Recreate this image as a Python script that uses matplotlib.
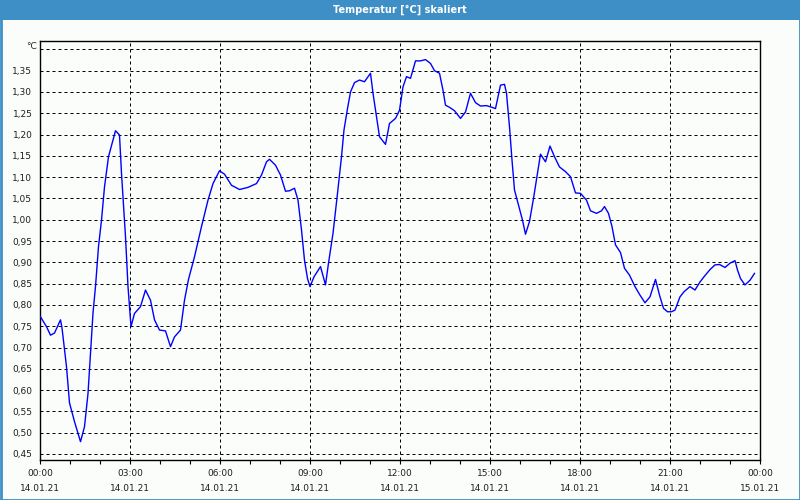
import matplotlib
matplotlib.use("Agg")
import matplotlib.pyplot as plt
from matplotlib.patches import Rectangle
from matplotlib.ticker import MultipleLocator, FixedLocator

# Messwerte: Minuten seit 14.01.21 00:00 und Temperatur (skaliert)
minutes = [1, 13, 21, 29, 41, 44, 53, 59, 69, 81, 89, 96, 101, 106, 111, 117, 123, 129,
           137, 144, 151, 159, 163, 171, 176, 179, 182, 189, 201, 211, 221, 229, 239, 251,
           261, 269, 281, 289, 297, 309, 323, 336, 346, 359, 369, 383, 399, 416, 433, 443,
           453, 459, 471, 481, 491, 499, 509, 516, 523, 529, 535, 540, 548, 561, 571, 577,
           586, 595, 603, 608, 615, 621, 629, 639, 649, 655, 661, 666, 673, 679, 691, 699,
           711, 719, 726, 733, 741, 751, 761, 771, 781, 789, 799, 806, 811, 819, 829, 841,
           851, 861, 871, 881, 893, 904, 911, 916, 921, 929, 933, 939, 944, 949, 957, 965,
           971, 979, 987, 996, 1001, 1011, 1020, 1029, 1039, 1051, 1061, 1071, 1081, 1093,
           1101, 1113, 1123, 1129, 1137, 1144, 1151, 1161, 1169, 1179, 1190, 1200, 1210,
           1220, 1231, 1239, 1247, 1255, 1263, 1270, 1280, 1288, 1300, 1310, 1320, 1330,
           1340, 1350, 1359, 1370, 1380, 1390, 1395, 1401, 1410, 1420, 1429]
temps = [0.772, 0.749, 0.729, 0.734, 0.765, 0.746, 0.655, 0.570, 0.526, 0.479, 0.514, 0.592,
         0.687, 0.781, 0.843, 0.937, 0.999, 1.077, 1.148, 1.179, 1.209, 1.199, 1.109, 0.960,
         0.843, 0.796, 0.749, 0.780, 0.796, 0.835, 0.811, 0.765, 0.741, 0.739, 0.702, 0.725,
         0.741, 0.811, 0.860, 0.913, 0.984, 1.046, 1.085, 1.115, 1.107, 1.081, 1.071, 1.076,
         1.085, 1.105, 1.136, 1.142, 1.128, 1.105, 1.067, 1.068, 1.074, 1.046, 0.976, 0.905,
         0.862, 0.843, 0.866, 0.890, 0.847, 0.898, 0.968, 1.062, 1.148, 1.211, 1.261, 1.300,
         1.322, 1.328, 1.324, 1.334, 1.344, 1.297, 1.242, 1.195, 1.177, 1.226, 1.238, 1.257,
         1.312, 1.336, 1.332, 1.373, 1.373, 1.376, 1.367, 1.350, 1.344, 1.304, 1.269, 1.264,
         1.256, 1.238, 1.253, 1.297, 1.275, 1.267, 1.268, 1.264, 1.261, 1.289, 1.316, 1.318,
         1.297, 1.218, 1.140, 1.070, 1.035, 0.999, 0.966, 0.996, 1.050, 1.117, 1.154, 1.136,
         1.173, 1.148, 1.124, 1.113, 1.101, 1.063, 1.062, 1.046, 1.021, 1.015, 1.021, 1.031,
         1.015, 0.984, 0.941, 0.923, 0.886, 0.870, 0.843, 0.823, 0.805, 0.819, 0.860, 0.823,
         0.792, 0.784, 0.784, 0.788, 0.819, 0.831, 0.843, 0.835, 0.854, 0.869, 0.883, 0.894,
         0.895, 0.888, 0.898, 0.904, 0.882, 0.862, 0.847, 0.858, 0.874]

x_ticks = [0, 180, 360, 540, 720, 900, 1080, 1260, 1440]
time_labels = ["00:00", "03:00", "06:00", "09:00", "12:00", "15:00", "18:00", "21:00", "00:00"]
date_labels = ["14.01.21"] * 8 + ["15.01.21"]
y_ticks = [0.45 + 0.05 * i for i in range(20)]

bg = "#fbfdfb"
bar_blue = "#3d8fc6"
txt = "#1e1e1e"

fig = plt.figure(figsize=(8, 5), dpi=100, facecolor=bg)

# Titelleiste
fig.patches.append(Rectangle((0, 1 - 20 / 500), 1, 20 / 500, transform=fig.transFigure,
                             facecolor=bar_blue, edgecolor="none", zorder=0))
fig.patches.append(Rectangle((0.5 / 800, 0.5 / 500), 1 - 1 / 800, 1 - 1 / 500,
                             transform=fig.transFigure, facecolor="none",
                             edgecolor=bar_blue, linewidth=2, zorder=5))
fig.text(0.5, 1 - 10 / 500, "Temperatur [°C] skaliert", ha="center", va="center",
         color="white", fontsize=7, fontweight="bold")

ax = fig.add_axes([40 / 800, (500 - 460.3) / 500, 720 / 800, (460.3 - 41) / 500])
ax.set_facecolor(bg)

ax.plot(minutes, temps, color="#0000ff", linewidth=1.0, zorder=3)

ax.set_xlim(0, 1440)
ax.set_ylim(0.4352, 1.4197)

ax.set_xticks(x_ticks, [f"{t}\n{d}" for t, d in zip(time_labels, date_labels)],
              linespacing=1.9)
ax.xaxis.set_minor_locator(MultipleLocator(60))
ax.yaxis.set_major_locator(FixedLocator(y_ticks))
ax.set_yticklabels([f"{v:.2f}".replace(".", ",") for v in y_ticks[:-1]] + [""])

ax.tick_params(axis="x", which="both", direction="out", length=3, width=0.8,
               colors="black", labelcolor=txt, labelsize=6.5, pad=3)
ax.tick_params(axis="y", length=0, labelcolor=txt, labelsize=6.5, pad=5.5)

ax.grid(True, which="major", color="black", linestyle=(0, (3, 3)), linewidth=0.72)
for s in ax.spines.values():
    s.set_linewidth(1.0)
    s.set_color("black")

ax.text(-0.004, 1.418, "°C", transform=ax.get_yaxis_transform(), ha="right", va="top",
        fontsize=6.5, color=txt)

fig.savefig("out.png", dpi=100, facecolor=bg)
